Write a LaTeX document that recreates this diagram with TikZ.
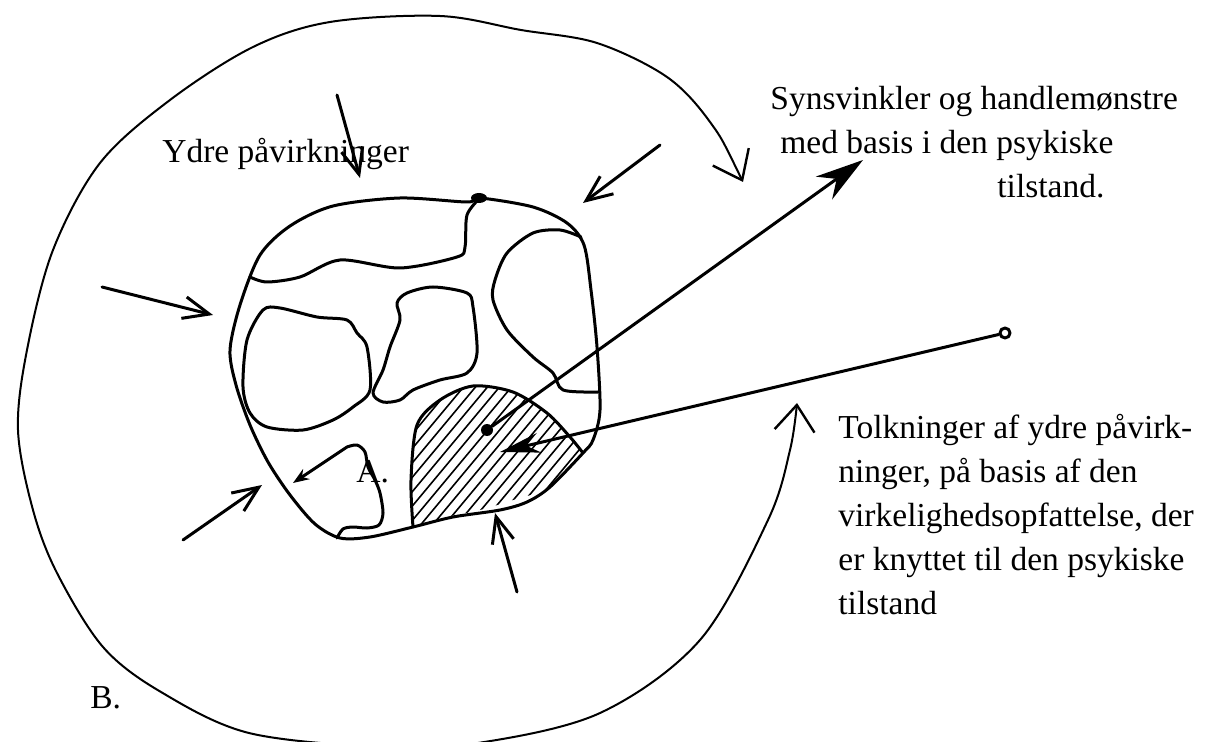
\documentclass[tikz,border=0pt]{standalone}
\usepackage{fontspec}
\setmainfont{Liberation Serif}
\usetikzlibrary{arrows.meta}

\tikzset{
  pen/.style={line width=1.5pt, line cap=round, line join=round},
  thinpen/.style={line width=1pt, line cap=round, line join=round},
  hatch/.style={line width=0.8pt},
  vtip/.style={-{Straight Barb[length=13pt,width=11pt,line width=1.5pt]}},
  loopends/.style={{Straight Barb[length=13pt,width=20pt,line width=1.2pt]}-{Straight Barb[length=13pt,width=20pt,line width=1.2pt]}},
  bigtip/.style={-{Stealth[length=24pt,width=14pt]}},
  midtip/.style={-{Stealth[length=20pt,width=10pt]}},
  txt/.style={font=\fontsize{16.75}{22}\selectfont, inner sep=0pt, anchor=base west},
}

\begin{document}
\begin{tikzpicture}[x=0.5pt,y=-0.5pt]
\useasboundingbox (0,0) rectangle (1208,742);

\draw[thinpen, loopends] plot[smooth, tension=0.55] coordinates {(743,182) (710,122) (667,77) (597,43) (521,30) (440,16) (330,22) (253,47) (170,100) (100,163) (53,250) (27,350) (18,430) (33,510) (57,573) (103,647) (161,692) (249,733) (383,747) (478,743) (600,713) (700,640) (768,520) (790,450) (797,403)};

\draw[pen] plot[smooth cycle, tension=0.5] coordinates {(230,350) (240,305) (260,255) (290,226) (333,206) (400,198) (467,202) (480,198) (533,207) (567,223) (584,245) (591,290) (597,347) (600,410) (593,440) (583,453) (550,487) (527,502) (500,510) (453,517) (413,527) (370,537) (340,538) (315,524) (290,495) (268,462) (250,425) (236,385)};
\fill (479,198) ellipse (8 and 5);

\draw[pen] plot[smooth, tension=0.5] coordinates {(480,198) (467,215) (465,247) (457,257) (400,268) (340,260) (300,277) (267,282) (250,277)};
\draw[pen] plot[smooth cycle, tension=0.5] coordinates {(263,310) (280,308) (317,317) (347,320) (357,333) (367,347) (370,390) (353,407) (333,420) (303,430) (267,427) (250,413) (243,387) (247,340)};
\draw[pen] plot[smooth cycle, tension=0.5] coordinates {(397,303) (407,293) (433,287) (467,293) (473,307) (477,353) (467,373) (440,380) (413,390) (400,400) (383,402) (373,393) (383,370) (390,347) (400,320)};
\draw[pen] plot[smooth, tension=0.5] coordinates {(581,237) (560,230) (533,233) (507,253) (495,280) (493,300) (507,330) (533,357) (553,373) (563,390) (598,392)};
\draw[pen, {Stealth[length=8pt,width=6pt]}-] (293,483) -- plot[smooth, tension=0.5] coordinates {(347,447) (357,445) (365,452) (368,467) (375,480) (380,493) (383,513) (379,525) (367,528) (353,527) (343,529) (337,538)};

\begin{scope}
\clip plot[smooth, tension=0.5] coordinates {(413,527) (411,480) (417,425) (440,400) (473,386) (513,392) (547,413) (570,437) (583,453)} -- plot[smooth, tension=0.5] coordinates {(583,453) (550,487) (513,500) (480,510) (447,517) (413,527)} -- cycle;
\foreach \h in {0,...,26}
  \draw[hatch] ({300+12*\h},540) -- ++(170,-204);
\end{scope}
\draw[pen] plot[smooth, tension=0.5] coordinates {(413,527) (411,480) (417,425) (440,400) (473,386) (513,392) (547,413) (570,437) (583,453)};

\node[fill, circle, inner sep=0pt, minimum size=6pt] (spot) at (487,430) {};
\coordinate (syntip) at (863,160);
\draw[pen, bigtip] (spot) -- (syntip);

\node[draw, circle, pen, fill=white, inner sep=0pt, minimum size=5pt] (ring) at (1005,333) {};
\coordinate (tolktip) at (500,452);
\draw[pen, midtip] (ring) -- (tolktip);

\foreach \xa/\ya/\xb/\yb in {337/95/360/178, 660/145/583/203, 102/287/213/315, 183/540/262/485, 517/592/495/513}
  \draw[pen, vtip] (\xa,\ya) -- (\xb,\yb);

\node[txt] (ydre) at (162,163) {Ydre påvirkninger};
\node[txt] (syn1) at (770,110) {Synsvinkler og handlemønstre};
\node[txt] (syn2) at (780,154) {med basis i den psykiske};
\node[txt] (syn3) at (997,198) {tilstand.};
\foreach \t [count=\k] in {Tolkninger af ydre påvirk-, {ninger, på basis af den}, {virkelighedsopfattelse, der}, er knyttet til den psykiske, tilstand}
  \node[txt] (tolk\k) at (838,{438+44*(\k-1)}) {\t};
\node[txt] (lblA) at (356,482) {A.};
\node[txt] (lblB) at (90,708) {B.};
\end{tikzpicture}
\end{document}
